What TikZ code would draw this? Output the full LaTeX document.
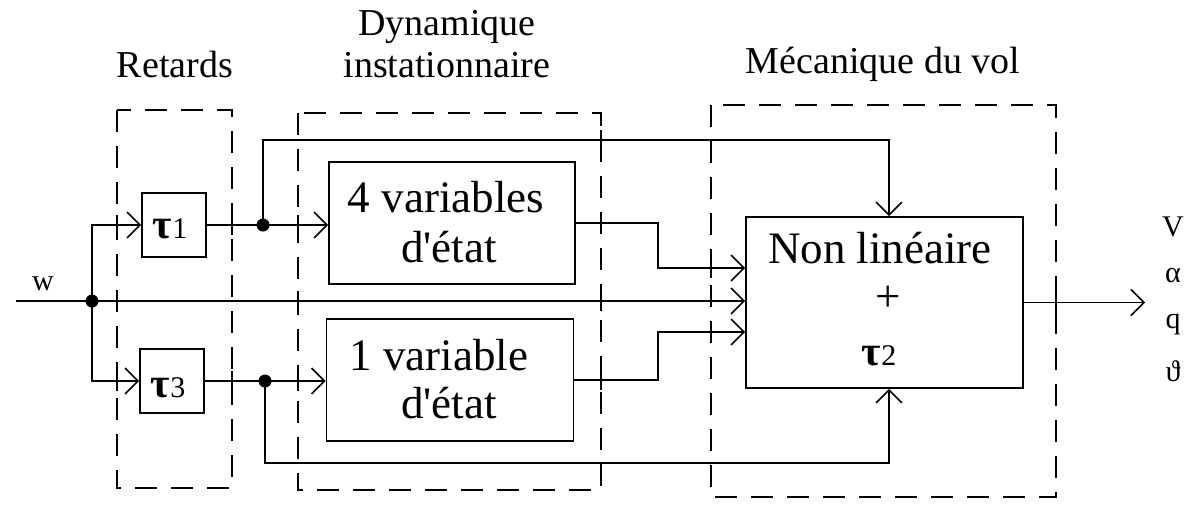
\documentclass[tikz,border=0pt]{standalone}
\usepackage{fontspec}
\setmainfont{Liberation Serif}[Ligatures=TeXOff]
\usetikzlibrary{arrows.meta,calc}
\newcommand\taufont{\fontsize{42}{44}\selectfont\bfseries}
\newcommand\subfont{\fontsize{30}{32}\selectfont\mdseries}
\begin{document}
\begin{tikzpicture}[x=1pt,y=-1pt,line width=1.8pt,
  arr/.style={-{Straight Barb[length=13pt,width=26pt,line width=1.5pt]}},
  blk/.style={draw,line width=1.8pt,inner sep=0pt},
  grp/.style={draw,dash pattern=on 22pt off 14pt,line width=1.8pt},
  dot/.style={circle,fill,inner sep=0pt,minimum size=13pt},
  ttl/.style={font=\fontsize{38}{40}\selectfont,anchor=base,inner sep=0pt},
  btxt/.style={font=\fontsize{45}{48}\selectfont,anchor=base,inner sep=0pt},
  outl/.style={font=\fontsize{30}{32}\selectfont,anchor=base,inner sep=0pt},
  taul/.style={anchor=base west,inner sep=0pt}]
\useasboundingbox (0,0) rectangle (1199,504);

% group titles
\node[ttl] (lret) at (175,77) {Retards};
\node[ttl] (ldyn1) at (447,35) {Dynamique};
\node[ttl] (ldyn2) at (447,77) {instationnaire};
\node[ttl] (lmec) at (883,73) {Mécanique du vol};

% dashed groups
\draw[grp] (117,110) rectangle (232,488);
\draw[grp] (298,113) rectangle (601,490);
\draw[grp] (711,105) rectangle (1056,497);

% blocks
\node[blk,minimum width=64pt,minimum height=64pt] (t1) at (174,225) {};
\node[blk,minimum width=64pt,minimum height=64pt] (t3) at (172,381) {};
\node[blk,minimum width=246pt,minimum height=122pt] (v4) at (452,223) {};
\node[blk,minimum width=247pt,minimum height=122pt] (v1) at (450,380) {};
\node[blk,minimum width=277pt,minimum height=171pt] (NL) at (884.5,302.5) {};

% block texts
\node[taul] (t1l) at (152,238) {\taufont τ\subfont 1};
\node[taul] (t3l) at (150,397) {\taufont τ\subfont 3};
\node[btxt] (v4a) at (446,212) {4 variables};
\node[btxt] (v4b) at (449,262) {d'état};
\node[btxt] (v1a) at (439,370) {1 variable};
\node[btxt] (v1b) at (449,418) {d'état};
\node[btxt] (nla) at (880,263) {Non linéaire};
\node[btxt] (nlb) at (888,311) {+};
\node[taul] (t2l) at (861,365) {\taufont τ\subfont 2};

% input / outputs labels
\node[outl] (lw) at (43,290) {w};
\node[outl] (oV) at (1173,236) {V};
\node[outl] (oa) at (1173,282) {α};
\node[outl] (oq) at (1173,328) {q};
\node[outl] (ot) at (1173,381) {ϑ};

% junctions and bends
\coordinate (win) at (16,301);
\node[dot] (j0) at (92,301) {};
\node[dot] (d1) at (263,225) {};
\node[dot] (d3) at (265,381) {};
\coordinate (topc) at (889,140);
\coordinate (botc) at (889,463);
\coordinate (s4) at (658,268);
\coordinate (s1) at (658,332);
\coordinate (vout) at (1145,302.5);

% connectors
\draw[arr] (win) -- (NL.west |- win);
\draw[arr] (j0.center) |- (t1.west);
\draw[arr] (j0.center) |- (t3.west);
\draw[arr] (t1.east) -- (v4.west |- t1.east);
\draw[arr] (t3.east) -- (v1.west |- t3.east);
\draw[arr] (d1.center) |- (topc) -- (NL.north -| topc);
\draw[arr] (d3.center) |- (botc) -- (NL.south -| botc);
\draw[arr] (v4.east) -| (s4) -- (NL.west |- s4);
\draw[arr] (v1.east) -| (s1) -- (NL.west |- s1);
\draw[arr] (NL.east) -- (vout);

% solid ticks where dashed frames cross signals
\foreach \x/\y in {117/225,117/381,232/225,232/381,298/225,298/301,298/381,
                   601/140,601/223,601/301,601/380,711/268,711/332,1056/302.5}
  \draw (\x,\y) ++(0,-10) -- ++(0,20);
\end{tikzpicture}
\end{document}
